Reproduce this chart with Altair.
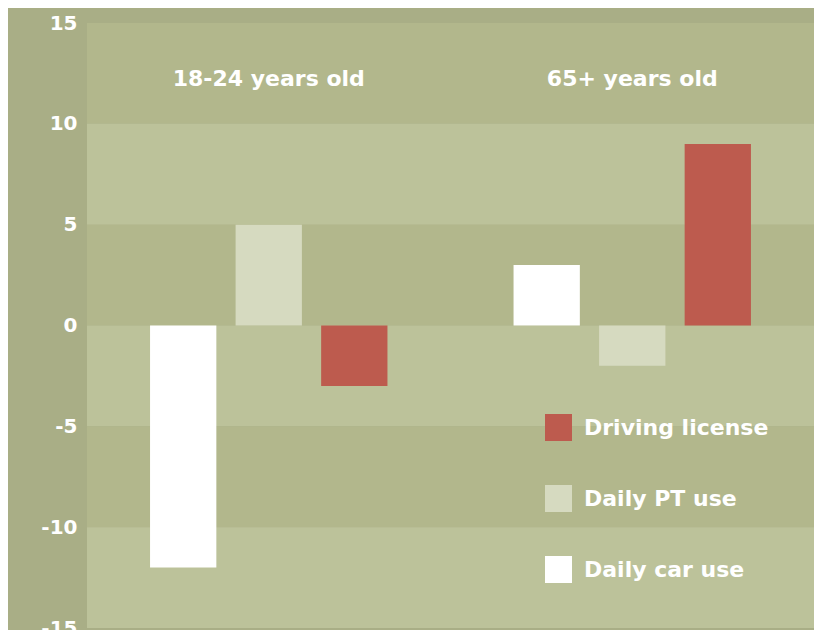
import altair as alt
import pandas as pd

groups = ["18-24 years old", "65+ years old"]
series = ["Daily car use", "Daily PT use", "Driving license"]
car_use = [-12, 3]
pt_use = [5, -2]
license_ = [-3, 9]
legend_order = ["Driving license", "Daily PT use", "Daily car use"]
series_colors = ["#ffffff", "#d6dac0", "#bd5b4e"]

band_lo = [10, 5, 0, -5, -10, -15]
band_hi = [15, 10, 5, 0, -5, -10]
band_fill = ["#b2b78c", "#bcc29a", "#b2b78c", "#bcc29a", "#b2b78c", "#bcc29a"]
y_ticks = [-15, -10, -5, 0, 5, 10, 15]

W, H = 727, 605
FONT = "DejaVu Sans"

rows = []
for i, g in enumerate(groups):
    for s, vals in zip(series, [car_use, pt_use, license_]):
        rows.append({"group": g, "series": s, "value": vals[i]})
bars_df = pd.DataFrame(rows)
bands_df = pd.DataFrame({"lo": band_lo, "hi": band_hi, "fill": band_fill})
titles_df = pd.DataFrame({"group": groups})

yscale = alt.Scale(domain=[-15, 15], nice=False, zero=False)
xscale = alt.Scale(domain=groups, paddingInner=0, paddingOuter=0)

bands = alt.Chart(bands_df).mark_rect().encode(
    x=alt.value(0), x2=alt.value(W),
    y=alt.Y("hi:Q", scale=yscale,
            axis=alt.Axis(values=y_ticks, title=None, grid=False, domain=False,
                          ticks=False, labelPadding=10, labelFont=FONT,
                          labelFontSize=20, labelFontWeight="bold",
                          labelColor="#ffffff",
                          labelExpr="toString(datum.value)")),
    y2="lo:Q",
    fill=alt.Fill("fill:N", scale=None),
)

bars = alt.Chart(bars_df).mark_bar().encode(
    x=alt.X("group:N", scale=xscale, axis=None, sort=groups),
    xOffset=alt.XOffset("series:N", sort=series,
                        scale=alt.Scale(paddingInner=0.225, paddingOuter=0.737)),
    y=alt.Y("value:Q", scale=yscale),
    y2=alt.datum(0),
    color=alt.Color("series:N",
                    scale=alt.Scale(domain=legend_order,
                                    range=[series_colors[2], series_colors[1], series_colors[0]]),
                    sort=legend_order,
                    legend=alt.Legend(title=None, orient="none", legendX=458, legendY=391,
                                      symbolType="square", symbolSize=729,
                                      symbolStrokeWidth=0, symbolOpacity=1,
                                      labelFont=FONT, labelFontSize=22,
                                      labelFontWeight="bold", labelColor="#ffffff",
                                      labelLimit=0,
                                      labelOffset=12, rowPadding=44, padding=0)),
)

titles = alt.Chart(titles_df).mark_text(
    font=FONT, fontSize=22, fontWeight="bold", color="#ffffff", baseline="middle"
).encode(
    x=alt.X("group:N", scale=xscale, sort=groups),
    y=alt.value(56),
    text="group:N",
)

chart = alt.layer(bands, bars, titles).properties(
    width=W, height=H,
    autosize=alt.AutoSizeParams(type="none"),
    padding={"left": 79, "top": 15, "right": 0, "bottom": 2},
    background="#a9ae86",
).configure_view(stroke=None)

chart.save("out.html", embed_options={"renderer": "svg", "actions": False})
